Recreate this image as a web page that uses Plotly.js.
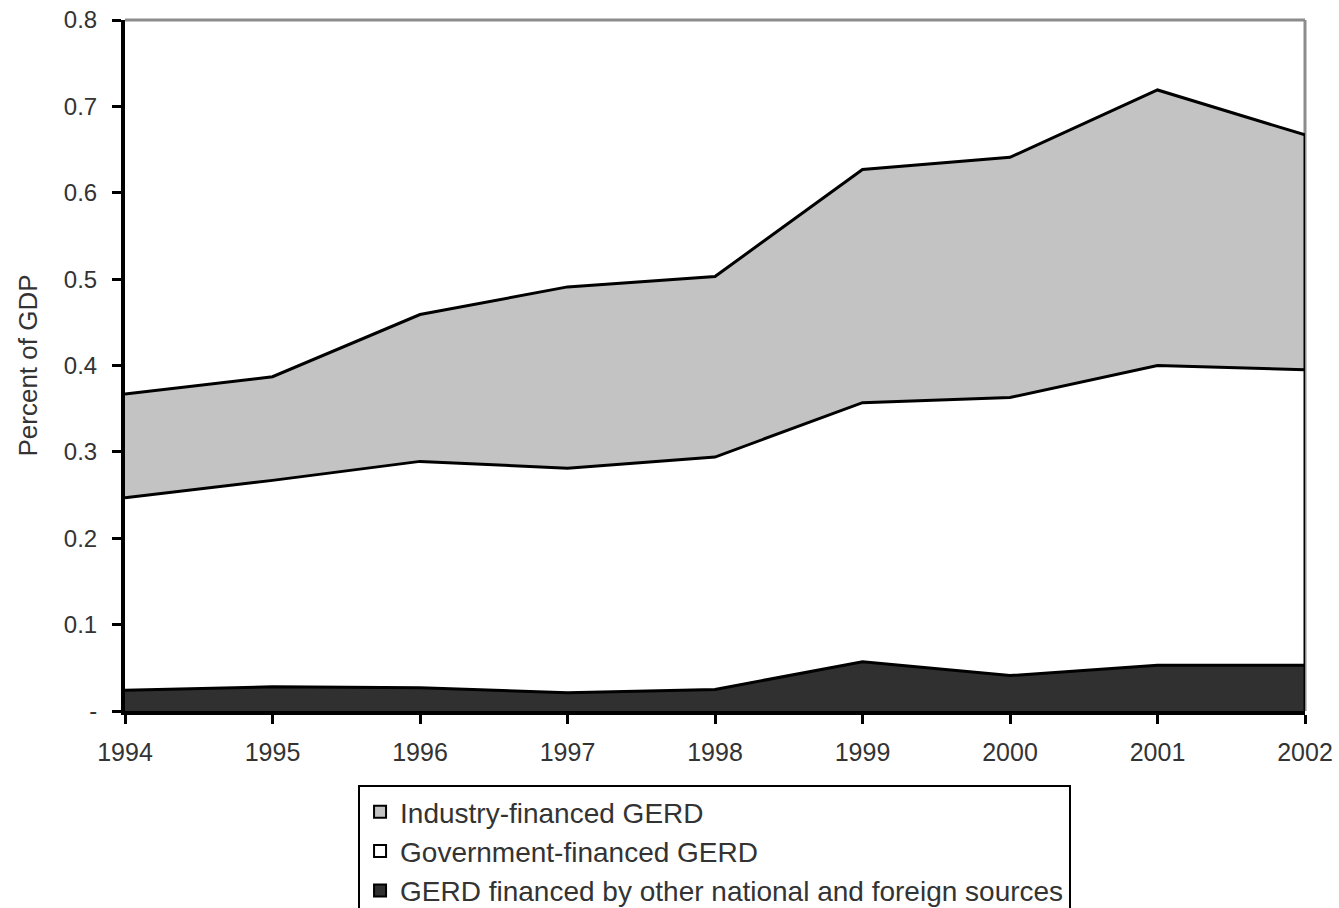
<!DOCTYPE html>
<html>
<head>
<meta charset="utf-8">
<script src="https://cdn.plot.ly/plotly-3.0.1.min.js"></script>
<style>
  html, body { margin: 0; padding: 0; background: #ffffff; }
  #chart { width: 1339px; height: 908px; }
</style>
</head>
<body>
<div id="chart"></div>
<script>
// Years (category positions)
const years = [1994, 1995, 1996, 1997, 1998, 1999, 2000, 2001, 2002];

// Series values (percent of GDP), stacked bottom to top
const otherSources = [0.024, 0.028, 0.027, 0.021, 0.025, 0.057, 0.041, 0.053, 0.053];
const governmentFinanced = [0.223, 0.239, 0.262, 0.260, 0.269, 0.300, 0.322, 0.347, 0.342];
const industryFinanced = [0.120, 0.120, 0.170, 0.210, 0.209, 0.270, 0.278, 0.319, 0.272];

// Series names
const nameIndustry = 'Industry-financed GERD';
const nameGovernment = 'Government-financed GERD';
const nameOther = 'GERD financed by other national and foreign sources';

// Series fill colours
const colOther = '#303030';
const colGovernment = '#ffffff';
const colIndustry = '#c3c3c3';

// Y tick labels
const yTickVals = [0, 0.1, 0.2, 0.3, 0.4, 0.5, 0.6, 0.7, 0.8];
const yTickText = ['-', '0.1', '0.2', '0.3', '0.4', '0.5', '0.6', '0.7', '0.8'];

const FONT = 'Liberation Sans, Arial, sans-serif';
const lineStyle = { color: '#000000', width: 3, shape: 'linear' };

function areaTrace(y, name, fill) {
  return { x: years, y: y, name: name, type: 'scatter', mode: 'lines',
           stackgroup: 'one', fillcolor: fill, line: lineStyle, showlegend: false };
}
function legendTrace(name, fill, rank) {
  return { x: [null], y: [null], name: name, type: 'scatter', mode: 'markers',
           legendrank: rank, showlegend: true,
           marker: { symbol: 'square', size: 15, color: fill, line: { color: '#000000', width: 2 } } };
}

const traces = [
  areaTrace(otherSources, nameOther, colOther),
  areaTrace(governmentFinanced, nameGovernment, colGovernment),
  areaTrace(industryFinanced, nameIndustry, colIndustry),
  legendTrace(nameIndustry, colIndustry, 1),
  legendTrace(nameGovernment, colGovernment, 2),
  legendTrace(nameOther, colOther, 3)
];

const last = years.length - 1;
const lastTotal = otherSources[last] + governmentFinanced[last] + industryFinanced[last];

const layout = {
  width: 1339,
  height: 908,
  paper_bgcolor: '#ffffff',
  plot_bgcolor: '#ffffff',
  margin: { l: 125, r: 34, t: 20, b: 197, autoexpand: false },
  font: { family: FONT, color: '#222222' },
  showlegend: true,
  hovermode: false,
  xaxis: {
    range: [years[0], years[last]],
    tickvals: years,
    ticktext: years.map(String),
    showgrid: false,
    zeroline: false,
    showline: true,
    linecolor: '#000000',
    linewidth: 4,
    ticks: 'outside',
    ticklen: 9,
    tickwidth: 3,
    tickcolor: '#000000',
    ticklabelstandoff: 7,
    tickfont: { family: FONT, size: 25, color: '#333333' }
  },
  yaxis: {
    range: [0, 0.8],
    tickvals: yTickVals,
    ticktext: yTickText,
    showgrid: false,
    zeroline: false,
    showline: true,
    linecolor: '#000000',
    linewidth: 4,
    ticks: 'outside',
    ticklen: 9,
    tickwidth: 3,
    tickcolor: '#000000',
    ticklabelstandoff: 10,
    tickfont: { family: FONT, size: 24, color: '#333333' },
    title: { text: 'Percent of GDP', font: { family: FONT, size: 26, color: '#333333' }, standoff: 20 }
  },
  legend: {
    x: 0.1975,
    y: -0.1071,
    xanchor: 'left',
    yanchor: 'top',
    traceorder: 'normal',
    bgcolor: '#ffffff',
    bordercolor: '#000000',
    borderwidth: 2,
    font: { family: FONT, size: 28, color: '#333333' },
    itemwidth: 30,
    itemsizing: 'constant'
  },
  shapes: [
    { type: 'line', xref: 'paper', yref: 'paper', x0: 0, x1: 1, y0: 1, y1: 1,
      line: { color: '#8c8c8c', width: 3 }, layer: 'below' },
    { type: 'line', xref: 'paper', yref: 'paper', x0: 1, x1: 1, y0: 0, y1: 1,
      line: { color: '#8c8c8c', width: 3 }, layer: 'below' },
    { type: 'line', xref: 'x', yref: 'y', x0: years[last], x1: years[last], y0: 0, y1: lastTotal,
      line: { color: '#000000', width: 3 }, layer: 'above' }
  ]
};

Plotly.newPlot('chart', traces, layout, { staticPlot: true, displayModeBar: false });
</script>
</body>
</html>
